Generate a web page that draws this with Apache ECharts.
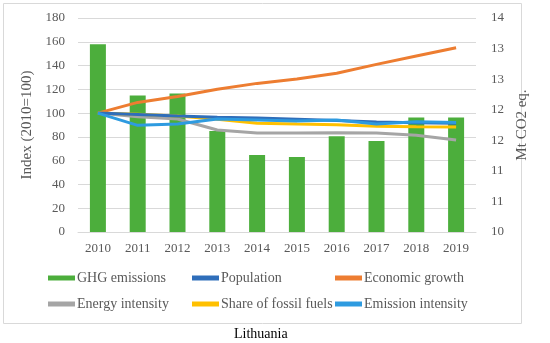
<!DOCTYPE html>
<html>
<head>
<meta charset="utf-8">
<script src="https://cdn.jsdelivr.net/npm/echarts@6/dist/echarts.min.js"></script>
<style>html,body{margin:0;padding:0;background:#fff}#c{width:550px;height:343px}</style>
</head>
<body>
<div id="c"></div>
<script>
var years = ['2010','2011','2012','2013','2014','2015','2016','2017','2018','2019'];
var ghgEmissions = [13.51, 12.55, 12.59, 11.89, 11.44, 11.40, 11.79, 11.70, 12.14, 12.14];
var population = [100, 98.8, 97.6, 96.6, 95.8, 94.9, 93.8, 92.6, 91.9, 91.5];
var economicGrowth = [100, 109, 114, 120, 125, 128.7, 133.5, 141, 148, 155];
var energyIntensity = [100, 97, 95, 85.8, 83.3, 83.3, 83.5, 83.3, 81.3, 77.4];
var fossilShare = [100, 99, 97.6, 94.8, 91.4, 90.8, 90.3, 89, 88.6, 88.3];
var emissionIntensity = [100, 89.7, 90.8, 95, 94.2, 93.4, 94.2, 90.8, 92.8, 92.2];

var font = 'Liberation Serif';
var txt = '#595959';
var chart = echarts.init(document.getElementById('c'));
function line(name, data, color) {
  return {name: name, type: 'line', yAxisIndex: 0, data: data, symbol: 'none',
    lineStyle: {color: color, width: 3}, itemStyle: {color: color}, z: 3};
}
var legendCommon = {orient: 'vertical', top: 271, padding: 0, itemWidth: 27, itemHeight: 5, itemGap: 12,
  textStyle: {fontFamily: font, fontSize: 14, color: txt, padding: [0,0,0,-3]}, icon: 'rect'};
chart.setOption({
  animation: false,
  textStyle: {fontFamily: font},
  graphic: [{type: 'rect', shape: {x: 3.5, y: 3.5, width: 518, height: 320},
    style: {fill: 'none', stroke: '#d9d9d9', lineWidth: 1}, silent: true},
    {type: 'text', left: 234, top: 327, style: {text: 'Lithuania', font: '14px "Liberation Serif"', fill: '#000'}}],
  grid: {left: 78, right: 74, top: 18, bottom: 111},
  legend: [
    Object.assign({left: 48, data: ['GHG emissions', 'Energy intensity']}, legendCommon),
    Object.assign({left: 192, data: ['Population', 'Share of fossil fuels']}, legendCommon),
    Object.assign({left: 335, data: ['Economic growth', 'Emission intensity']}, legendCommon)
  ],
  xAxis: {type: 'category', data: years,
    axisLine: {lineStyle: {color: '#d9d9d9'}}, axisTick: {show: false},
    axisLabel: {fontFamily: font, fontSize: 13, color: txt, margin: 10}},
  yAxis: [
    {type: 'value', min: 0, max: 180, interval: 20, name: 'Index (2010=100)',
      nameLocation: 'middle', nameGap: 38, nameRotate: 90,
      nameTextStyle: {fontFamily: font, fontSize: 15, color: txt},
      axisLabel: {fontFamily: font, fontSize: 13, color: txt, margin: 13},
      splitLine: {lineStyle: {color: '#d9d9d9'}}, axisLine: {show: false}, axisTick: {show: false}},
    {type: 'value', min: 10, max: 14, interval: 4/7, name: 'Mt CO2 eq.',
      nameLocation: 'middle', nameGap: 39, nameRotate: 90,
      nameTextStyle: {fontFamily: font, fontSize: 15, color: txt},
      axisLabel: {fontFamily: font, fontSize: 13, color: txt, margin: 15,
        formatter: function(v){return Math.round(v);}},
      splitLine: {show: false}, axisLine: {show: false}, axisTick: {show: false}}
  ],
  series: [
    {name: 'GHG emissions', type: 'bar', yAxisIndex: 1, data: ghgEmissions, barWidth: 16,
      itemStyle: {color: '#4CAE3C'}, z: 2},
    line('Energy intensity', energyIntensity, '#A5A5A5'),
    line('Economic growth', economicGrowth, '#ED7D31'),
    line('Share of fossil fuels', fossilShare, '#FFC000'),
    line('Population', population, '#2F6EBA'),
    line('Emission intensity', emissionIntensity, '#2E9BE0')
  ]
});
</script>
</body>
</html>
